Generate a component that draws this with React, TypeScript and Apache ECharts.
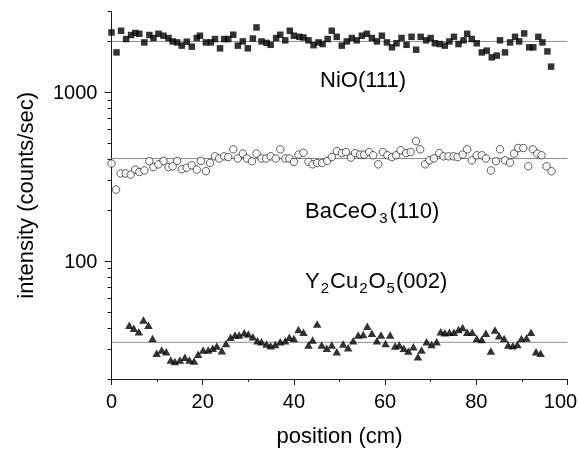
import React, { useEffect, useRef } from 'react';
import * as echarts from 'echarts';

// NiO(111) — filled squares
const niX = [0.0,1.1,2.1,3.2,4.3,5.2,6.1,7.2,8.3,9.2,10.3,11.4,12.5,13.4,14.4,15.4,16.5,17.6,18.7,19.4,20.7,21.8,22.7,23.8,24.7,25.6,26.7,27.7,28.8,29.9,31.0,31.8,32.9,34.0,34.9,36.1,37.0,38.1,39.1,40.0,41.2,42.1,43.2,44.3,45.4,46.3,47.4,48.3,49.4,
  50.5,51.6,52.7,53.8,54.9,56.0,57.1,58.2,59.3,60.4,61.5,62.5,63.6,64.7,65.8,66.8,67.8,69.0,70.0,70.9,72.0,73.1,74.1,75.1,76.1,77.2,78.0,79.0,80.1,81.2,82.3,83.4,84.5,85.2,86.3,87.4,88.5,89.4,90.5,91.6,92.5,93.6,94.5,95.6,96.4];
const niY = [2260,1722,2313,2066,2183,2244,2220,1973,2183,2095,2220,2162,2095,2000,1973,1888,1992,1862,2095,2162,1973,1973,2066,1820,2066,2066,2190,1888,2000,1820,2080,2420,2000,1960,1910,2095,2190,2030,2313,2162,2130,2110,2030,1900,1973,1930,2066,2313,2130,
  1888,2000,2095,2030,2162,2220,2095,2000,2162,1973,1845,1950,2095,1910,2130,1786,2130,2030,2095,1950,1930,1888,2000,2130,1930,2030,2220,2066,1950,1722,1763,1610,1648,2030,1722,1973,2130,2000,2230,1845,1845,2130,1973,1745,1418];

// BaCeO3(110) — open circles
const baX = [0.0,1.0,2.0,3.1,4.2,5.2,6.1,7.2,8.3,9.2,10.3,11.4,12.5,13.4,14.4,15.4,16.5,17.6,18.7,19.6,20.7,21.6,22.7,23.6,24.7,25.6,26.7,27.7,28.8,29.7,30.8,31.8,32.9,33.9,34.9,36.0,37.0,38.1,39.0,40.0,41.0,42.1,43.2,44.1,45.1,46.2,47.3,48.3,49.4,
  50.5,51.4,52.5,53.4,54.5,55.4,56.5,57.4,58.5,59.5,60.5,61.5,62.4,63.4,64.6,65.6,66.8,67.7,68.8,69.7,70.7,71.9,72.8,73.9,75.0,75.9,77.0,78.0,79.0,80.1,81.2,82.1,83.2,84.3,85.2,86.3,87.4,88.3,89.2,90.3,91.4,92.4,93.4,94.3,95.4,96.5];
const baY = [378,265,330,330,325,348,337,344,390,360,374,392,360,364,392,350,357,369,348,392,341,381,417,405,417,413,459,405,433,405,390,433,405,405,417,405,459,405,405,387,427,438,387,374,381,381,392,413,448,
  436,442,410,436,427,427,442,423,374,442,423,413,423,453,436,442,513,459,374,395,405,436,417,417,417,413,427,459,395,423,423,405,344,390,459,395,383,433,467,467,364,459,433,423,364,340];

// Y2Cu2O5(002) — filled triangles
const ycX = [3.9,4.9,6.0,7.0,8.1,9.0,9.9,11.0,12.0,13.0,13.9,15.0,16.1,17.1,18.1,19.0,20.1,21.2,22.2,23.1,24.2,25.1,26.1,27.1,28.0,29.1,30.0,31.0,32.0,32.9,34.0,34.9,35.9,37.0,38.1,39.0,40.0,41.0,42.1,43.2,44.1,45.1,46.1,47.2,48.3,49.4,
  50.8,51.9,53.0,54.1,55.2,56.1,57.1,58.2,59.1,60.1,61.1,62.2,63.1,64.1,65.1,66.2,67.2,68.0,69.1,70.2,71.3,72.2,73.1,74.1,75.1,76.1,77.0,78.0,79.1,80.1,81.2,82.1,83.2,84.1,85.0,86.1,87.0,88.0,89.0,89.9,91.0,92.0,93.1,94.1];
const ycY = [41.7,39.9,38.1,44.7,41.7,34.8,28.4,29.7,29.0,25.9,25.4,25.9,26.9,25.9,25.6,28.0,29.7,29.7,30.4,31.4,29.4,32.5,35.3,36.4,36.4,37.6,36.9,35.6,33.7,33.2,32.2,31.5,32.0,33.2,33.7,35.3,34.8,39.3,37.8,31.8,34.0,42.3,31.8,30.4,31.8,29.0,
  32.2,30.6,33.7,36.4,36.7,41.1,37.3,33.7,36.4,32.5,36.4,31.4,31.8,30.4,29.3,31.0,27.1,29.7,33.2,32.0,33.2,38.1,37.6,37.8,37.8,39.3,40.4,37.8,37.8,34.8,34.3,37.3,29.3,39.0,36.1,34.8,31.8,31.5,32.0,34.8,35.0,37.8,29.0,28.4];

// horizontal reference levels (NiO, BaCeO3, Y2Cu2O5)
const refLevels = [2000, 405, 33];
const xRange = [0, 100];
const xTickLabels = [0, 20, 40, 60, 80, 100];
const yMajorTicks = [100, 1000];
const yMinorTicks = [20, 30, 40, 50, 60, 70, 80, 90, 200, 300, 400, 500, 600, 700, 800, 900, 2000, 3000];

const FONT = "'Liberation Sans', Arial, Helvetica, sans-serif";
const AXIS = '#1a1a1a';

export default function App() {
  const ref = useRef<HTMLDivElement>(null);
  useEffect(() => {
    const chart = echarts.init(ref.current!, null, { renderer: 'svg' });
    const zip = (xs: number[], ys: number[]) => xs.map((x, i) => [x, ys[i]]);
    const refSeries = refLevels.map((lvl) => ({
      type: 'line',
      data: [[xRange[0], lvl], [xRange[1], lvl]],
      symbol: 'none',
      silent: true,
      lineStyle: { color: '#8c8c8c', width: 1 },
      z: 1,
    }));
    const txt = (fs: number) => ({ fontSize: fs, fontFamily: FONT, fill: '#000' });
    chart.setOption({
      animation: false,
      grid: { left: 111.5, right: 12.5, top: 11.7, bottom: 70, containLabel: false, outerBoundsMode: 'none' },
      xAxis: {
        type: 'value',
        min: xRange[0],
        max: xRange[1],
        interval: 20,
        axisLine: { lineStyle: { color: AXIS, width: 1 } },
        axisTick: { length: 6, lineStyle: { color: AXIS } },
        minorTick: { show: true, splitNumber: 2, length: 3, lineStyle: { color: AXIS } },
        splitLine: { show: false },
        axisLabel: {
          customValues: xTickLabels,
          fontSize: 20,
          fontFamily: FONT,
          color: '#000',
          margin: 12,
          formatter: (v: number) => (v === 100 ? '{r|100}' : String(v)),
          rich: { r: { fontSize: 20, fontFamily: FONT, color: '#000', padding: [0, 14, 0, 0] } },
        },
        name: 'position (cm)',
        nameLocation: 'middle',
        nameGap: 45,
        nameTextStyle: { fontSize: 22, fontFamily: FONT, color: '#000' },
      },
      yAxis: [
        {
          type: 'log',
          logBase: 10,
          min: 20,
          max: 3000,
          axisLine: { show: true, lineStyle: { color: AXIS, width: 1 } },
          axisTick: { show: true, length: 7, customValues: yMajorTicks, lineStyle: { color: AXIS } },
          axisLabel: {
            customValues: yMajorTicks,
            fontSize: 20,
            fontFamily: FONT,
            color: '#000',
            margin: 14,
            formatter: (v: number) => String(Math.round(v)),
          },
          splitLine: { show: false },
          name: 'intensity (counts/sec)',
          nameLocation: 'middle',
          nameGap: 75,
          nameRotate: 90,
          nameTextStyle: { fontSize: 22, fontFamily: FONT, color: '#000' },
        },
        {
          type: 'log',
          logBase: 10,
          min: 20,
          max: 3000,
          position: 'left',
          axisLine: { show: false },
          axisTick: { show: true, length: 4, customValues: yMinorTicks, lineStyle: { color: AXIS } },
          axisLabel: { show: false },
          splitLine: { show: false },
        },
      ],
      series: [
        ...refSeries,
        {
          name: 'NiO(111)',
          type: 'scatter',
          data: zip(niX, niY),
          symbol: 'rect',
          symbolSize: 6.5,
          itemStyle: { color: '#000' },
          z: 3,
        },
        {
          name: 'BaCeO3(110)',
          type: 'scatter',
          data: zip(baX, baY),
          symbol: 'circle',
          symbolSize: 7.5,
          itemStyle: { color: '#fff', borderColor: '#000', borderWidth: 0.8 },
          z: 3,
        },
        {
          name: 'Y2Cu2O5(002)',
          type: 'scatter',
          data: zip(ycX, ycY),
          symbol: 'triangle',
          symbolSize: [8.5, 7.5],
          itemStyle: { color: '#000' },
          z: 3,
        },
      ],
      graphic: [
        {
          type: 'text',
          x: 320,
          y: 79,
          style: { text: 'NiO(111)', ...txt(22), align: 'left', verticalAlign: 'middle' },
        },
        {
          type: 'text',
          x: 305,
          y: 210,
          style: {
            text: '{n|BaCeO}{s|3}{n|(110)}',
            ...txt(22),
            align: 'left',
            verticalAlign: 'middle',
            rich: {
              n: { ...txt(22), lineHeight: 25 },
              s: { ...txt(15), lineHeight: 15, padding: [14, 2, 0, 2] },
            },
          },
        },
        {
          type: 'text',
          x: 305,
          y: 280,
          style: {
            text: '{n|Y}{s|2}{n|Cu}{s|2}{n|O}{s|5}{n|(002)}',
            ...txt(22),
            align: 'left',
            verticalAlign: 'middle',
            rich: {
              n: { ...txt(22), lineHeight: 25 },
              s: { ...txt(15), lineHeight: 15, padding: [14, 1, 0, 1] },
            },
          },
        },
      ],
    });
    return () => chart.dispose();
  }, []);
  return <div ref={ref} style={{ position: 'fixed', left: 0, top: 0, width: 580, height: 449 }} />;
}
